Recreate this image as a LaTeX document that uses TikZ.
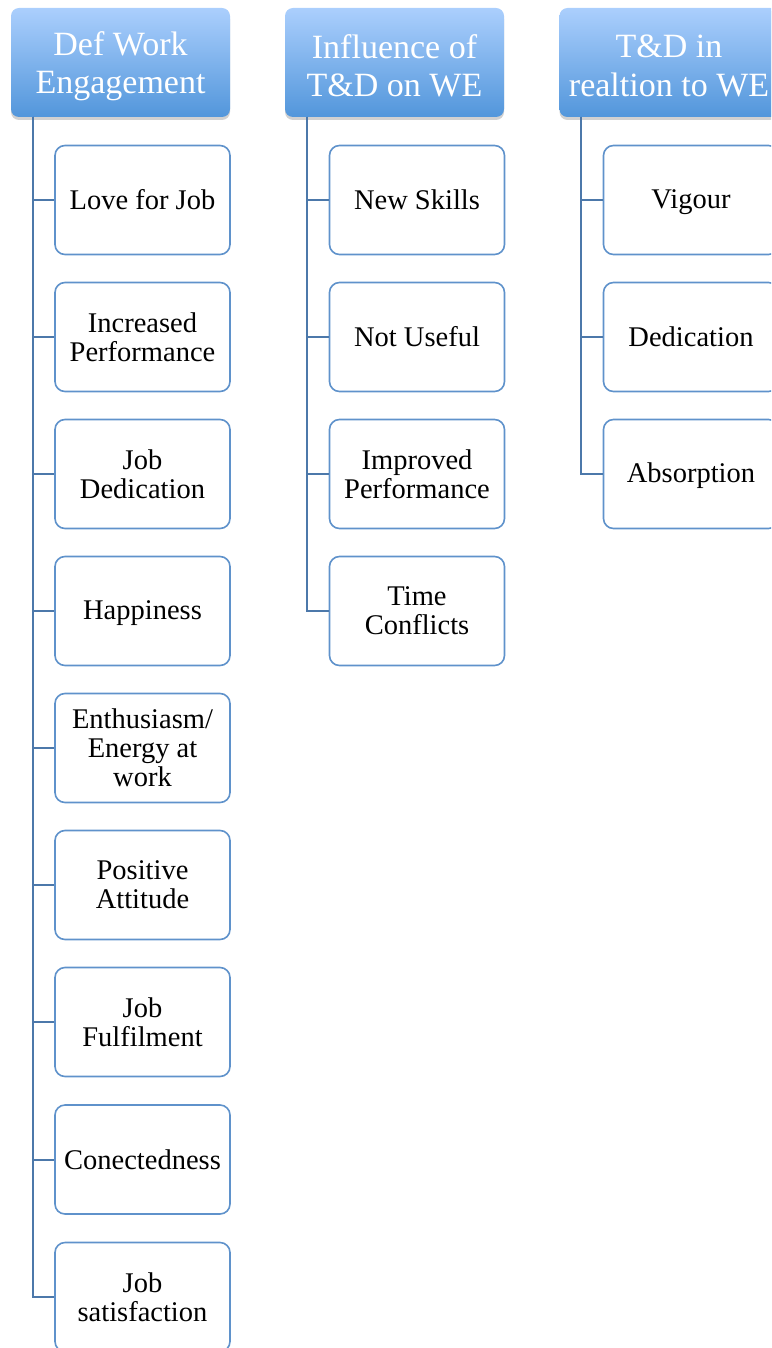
\documentclass[tikz,border=0pt]{standalone}
\usepackage{fontspec}
\setmainfont{Liberation Serif}
\usetikzlibrary{shadows}
\definecolor{headtop}{HTML}{ABCFFD}
\definecolor{headbot}{HTML}{5296DB}
\definecolor{leafborder}{HTML}{5F92CB}
\definecolor{linkcol}{HTML}{4C78AA}
\newcommand{\topstrutx}{\rule{0pt}{24pt}}
\newcommand{\botstrutx}{\rule[-5pt]{0pt}{5pt}}
\tikzset{
  head/.style={rounded corners=8pt, top color=headtop, bottom color=headbot, draw=none,
    minimum width=219pt, minimum height=109pt, inner sep=0pt,
    drop shadow={shadow xshift=0pt, shadow yshift=-3pt, opacity=0.3, fill=black!60}},
  headtext/.style={align=center, text=white, font=\fontsize{34}{38.5}\selectfont, inner sep=0pt},
  leaf/.style={rounded corners=10pt, draw=leafborder, line width=1.6pt, fill=white,
    minimum width=175pt, minimum height=109pt, align=center,
    font=\fontsize{28.5}{29}\selectfont, inner sep=0pt},
  oneline/.style={execute at begin node=\topstrutx, execute at end node=\botstrutx},
  link/.style={draw=linkcol, line width=2pt}
}
\begin{document}
\begin{tikzpicture}[x=1pt,y=-1pt]
\useasboundingbox (0,0) rectangle (771,1348);
\clip (0,0) rectangle (771,1348);
% column 1
\node[head] (h1) at (120.5,62.5) {};
\node[headtext] (h1t) at (120.5,66) {Def Work\\Engagement};
\node[leaf, oneline] (a1) at (142.5,200) {Love for Job};
\node[leaf] (a2) at (142.5,337) {Increased\\Performance};
\node[leaf] (a3) at (142.5,474) {Job\\Dedication};
\node[leaf, oneline] (a4) at (142.5,611) {Happiness};
\node[leaf] (a5) at (142.5,748) {Enthusiasm/\\Energy at\\work};
\node[leaf] (a6) at (142.5,885) {Positive\\Attitude};
\node[leaf] (a7) at (142.5,1022) {Job\\Fulfilment};
\node[leaf, oneline] (a8) at (142.5,1159.5) {Conectedness};
\node[leaf] (a9) at (142.5,1297) {Job\\satisfaction};
\coordinate (t1) at (33,117);
\foreach \i in {1,...,9}{
  \draw[link] (t1) |- (a\i.west);
}
% column 2
\node[head] (h2) at (394.5,62.5) {};
\node[headtext] (h2t) at (394.5,66) {Influence of\\T\&D on WE};
\node[leaf, oneline] (b1) at (417,200) {New Skills};
\node[leaf, oneline] (b2) at (417,337) {Not Useful};
\node[leaf] (b3) at (417,474) {Improved\\Performance};
\node[leaf] (b4) at (417,611) {Time\\Conflicts};
\coordinate (t2) at (307,117);
\foreach \i in {1,...,4}{
  \draw[link] (t2) |- (b\i.west);
}
% column 3
\node[head] (h3) at (669,62.5) {};
\node[headtext] (h3t) at (669,66) {T\&D in\\realtion to WE};
\node[leaf, oneline] (c1) at (691,200) {Vigour};
\node[leaf, oneline] (c2) at (691,337) {Dedication};
\node[leaf, oneline] (c3) at (691,474) {Absorption};
\coordinate (t3) at (581,117);
\foreach \i in {1,...,3}{
  \draw[link] (t3) |- (c\i.west);
}
\end{tikzpicture}
\end{document}
